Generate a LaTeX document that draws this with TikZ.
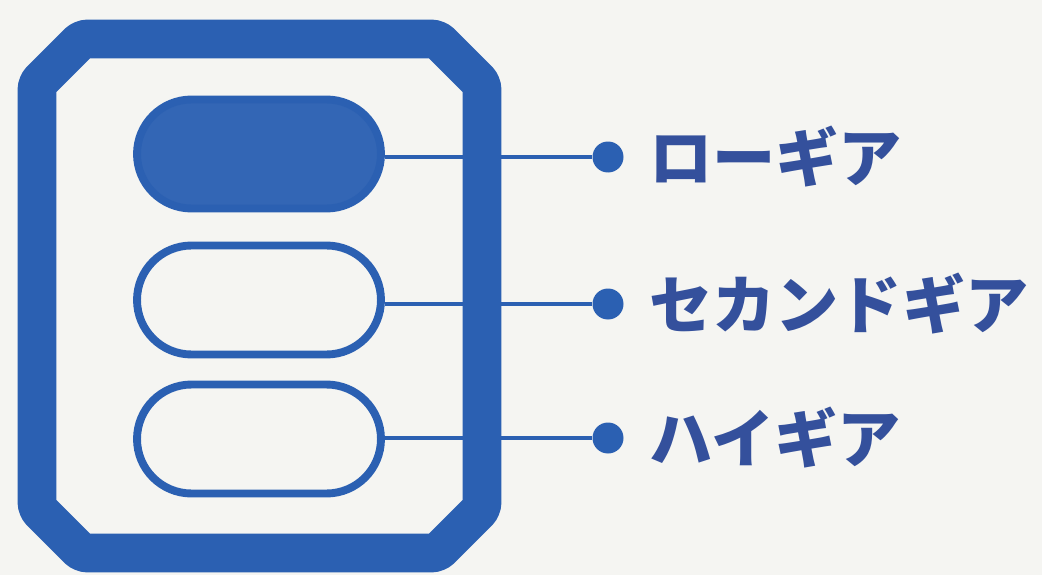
\documentclass[tikz,border=0pt]{standalone}
\usepackage{fontspec}
\newfontfamily\jpfont{Noto Sans CJK JP}
\usepackage{xcolor}
\usetikzlibrary{positioning, shapes.misc}
\definecolor{gearblue}{RGB}{43,96,178}
\definecolor{textblue}{RGB}{52,80,156}
\definecolor{paper}{RGB}{245,245,242}
\tikzset{
  pill/.style = {rounded rectangle, draw = gearblue, line width = 4.5pt,
    minimum width = 4.88cm, minimum height = 2.18cm, inner sep = 0pt},
  dot/.style = {circle, fill = gearblue, minimum size = 0.62cm, inner sep = 0pt},
  gearlabel/.style = {anchor = west, text = textblue, inner sep = 0pt,
    font = \jpfont\bfseries\fontsize{36}{40}\selectfont},
  wire/.style = {draw = gearblue, line width = 2.2pt}
}

\begin{document}
\begin{tikzpicture}[x = 0.02cm, y = -0.02cm]
  \fill[paper] (0, 0) rectangle (1042, 575);
  \useasboundingbox (0, 0) rectangle (1042, 575);

  % frame
  \draw[gearblue, line width = 22pt, rounded corners = 3pt]
    (82, 39) -- (437, 39) -- (482, 84) -- (482, 508) -- (437, 553)
    -- (82, 553) -- (37, 508) -- (37, 84) -- cycle;

  % gear buttons
  \node[pill, fill = gearblue!96!white] (low) at (259, 154) {};
  \node[pill, fill = paper] (second) at (259, 300) {};
  \node[pill, fill = paper] (high) at (259, 439) {};

  \node[dot] (lowdot) at (608, 157) {};
  \node[dot] (seconddot) at (608, 304) {};
  \node[dot] (highdot) at (608, 438) {};

  \draw[wire] (low.east |- lowdot) -- (lowdot);
  \draw[wire] (second.east |- seconddot) -- (seconddot);
  \draw[wire] (high.east |- highdot) -- (highdot);

  \node[gearlabel, right = 0.5cm of lowdot] (lowtext) {ローギア};
  \node[gearlabel, right = 0.5cm of seconddot] (secondtext) {セカンドギア};
  \node[gearlabel, right = 0.5cm of highdot] (hightext) {ハイギア};

\end{tikzpicture}
\end{document}
